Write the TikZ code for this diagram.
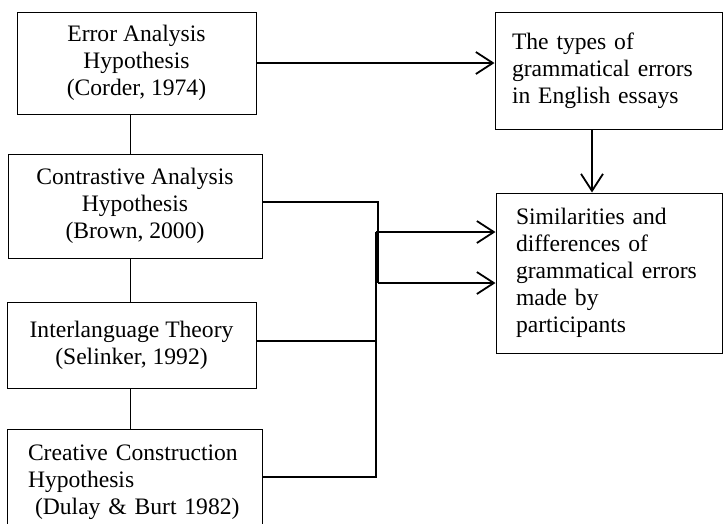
\documentclass[tikz,border=0pt]{standalone}
\usepackage{fontspec}
\setmainfont{Liberation Serif}
\usetikzlibrary{arrows.meta}
\begin{document}
\begin{tikzpicture}[x=1pt,y=-1pt,
  box/.style={draw,line width=1pt,inner sep=0pt,font=\fontsize{23.6}{27}\selectfont},
  cbox/.style={box,align=center},
  lbox/.style={box,align=left},
  conn/.style={line width=1.6pt},
  thin conn/.style={line width=1pt},
  arr/.style={line width=1.8pt,-{Straight Barb[length=17pt,width=22pt,line width=1.8pt]}}]
\clip (0,0) rectangle (723,523);
\fill[white] (0,0) rectangle (723,523);
% left column
\node[cbox,minimum width=239pt,minimum height=102pt] (b1) at (136.5,63)
  {Error Analysis\\Hypothesis\\(Corder, 1974)};
\node[cbox,minimum width=254pt,minimum height=104pt] (b2) at (135,206)
  {Contrastive Analysis\\Hypothesis\\(Brown, 2000)};
\node[cbox,minimum width=249pt,minimum height=86pt] (b3) at (131.5,345)
  {Interlanguage Theory\\(Selinker, 1992)};
\node[lbox,minimum width=255pt,minimum height=106pt,inner xsep=18pt,text width=219pt] (b4) at (134.5,482)
  {\hspace{3pt}Creative Construction\\\hspace{3pt}Hypothesis\\\hspace{10pt}(Dulay \& Burt 1982)};
% right column
\node[lbox,minimum width=227pt,minimum height=117pt,text width=193pt] (bt) at (608.5,70.5)
  {The types of\\grammatical errors\\in English essays};
\node[lbox,minimum width=226pt,minimum height=160pt,text width=186pt] (bs) at (609,273)
  {Similarities and\\differences of\\grammatical errors\\made by\\participants};
% coordinates
\coordinate (vx) at (130,0);
\coordinate (tx) at (592,0);
\coordinate (j1) at (378,202);
\coordinate (j2) at (378,283);
\coordinate (c3) at (376,341);
\coordinate (c4) at (376,477);
\coordinate (c5) at (376,232);
% vertical links
\draw[thin conn] (b1.south -| vx) -- (b2.north -| vx);
\draw[thin conn] (b2.south -| vx) -- (b3.north -| vx);
\draw[thin conn] (b3.south -| vx) -- (b4.north -| vx);
% arrows
\draw[arr] (b1.east) -- (b1.east -| bt.west);
\draw[arr] (bt.south -| tx) -- (bs.north -| tx);
\draw[conn] (b2.east |- j1) -- (j1) -- (j2);
\draw[arr] (j2) -- (j2 -| bs.west);
\draw[conn] (b4.east |- c4) -- (c4) -- (c5);
\draw[arr] (c5) -- (c5 -| bs.west);
\draw[conn] (b3.east |- c3) -- (c3);
\end{tikzpicture}
\end{document}
